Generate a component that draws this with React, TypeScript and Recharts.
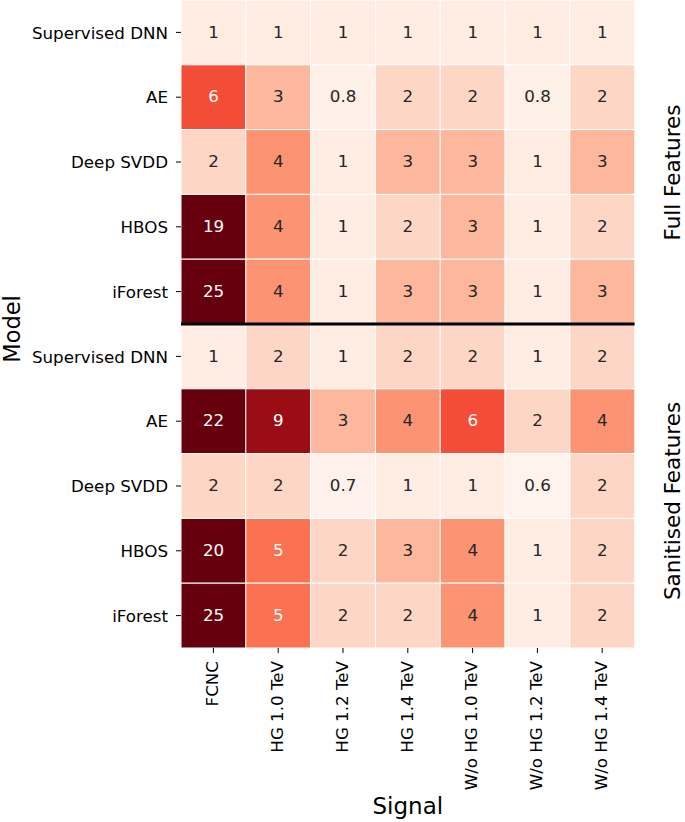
import React from 'react';
import { BarChart, Bar, XAxis, YAxis, Cell, LabelList, ReferenceLine, ReferenceArea } from 'recharts';

const signals = ['FCNC', 'HG 1.0 TeV', 'HG 1.2 TeV', 'HG 1.4 TeV', 'W/o HG 1.0 TeV', 'W/o HG 1.2 TeV', 'W/o HG 1.4 TeV'];
const models = ['Supervised DNN', 'AE', 'Deep SVDD', 'HBOS', 'iForest'];
const featureSets = ['Full Features', 'Sanitised Features'];

// Full features
const fullDnn = [1, 1, 1, 1, 1, 1, 1];
const fullAe = [6, 3, 0.8, 2, 2, 0.8, 2];
const fullSvdd = [2, 4, 1, 3, 3, 1, 3];
const fullHbos = [19, 4, 1, 2, 3, 1, 2];
const fullIforest = [25, 4, 1, 3, 3, 1, 3];
// Sanitised features
const sanDnn = [1, 2, 1, 2, 2, 1, 2];
const sanAe = [22, 9, 3, 4, 6, 2, 4];
const sanSvdd = [2, 2, 0.7, 1, 1, 0.6, 2];
const sanHbos = [20, 5, 2, 3, 4, 1, 2];
const sanIforest = [25, 5, 2, 2, 4, 1, 2];

const rows = [fullDnn, fullAe, fullSvdd, fullHbos, fullIforest, sanDnn, sanAe, sanSvdd, sanHbos, sanIforest];
const rowLabels = [...models, ...models];

const data = signals.map((s, j) => {
  const o: any = { signal: s };
  rows.forEach((r, i) => {
    o['c' + i] = 1;
    o['v' + i] = r[j];
  });
  return o;
});

const REDS = ['#fff5f0', '#fee0d2', '#fcbba1', '#fc9272', '#fb6a4a', '#ef3b2c', '#cb181d', '#a50f15', '#67000d'];
const VMIN = 0.5;
const VMAX = 10;

function hexToRgb(h: string) {
  return [parseInt(h.slice(1, 3), 16), parseInt(h.slice(3, 5), 16), parseInt(h.slice(5, 7), 16)];
}
function redsRgb(v: number) {
  let t = (v - VMIN) / (VMAX - VMIN);
  t = Math.max(0, Math.min(1, t));
  const p = t * 8;
  const i = Math.min(7, Math.floor(p));
  const f = p - i;
  const a = hexToRgb(REDS[i]);
  const b = hexToRgb(REDS[i + 1]);
  return a.map((c, k) => Math.round(c + (b[k] - c) * f));
}
function toHex(rgb: number[]) {
  return '#' + rgb.map((c) => c.toString(16).padStart(2, '0')).join('');
}
function textColor(rgb: number[]) {
  const lin = rgb.map((c) => {
    const s = c / 255;
    return s <= 0.03928 ? s / 12.92 : Math.pow((s + 0.055) / 1.055, 2.4);
  });
  const lum = 0.2126 * lin[0] + 0.7152 * lin[1] + 0.0722 * lin[2];
  return lum > 0.408 ? '#262626' : '#ffffff';
}

const FONT = 'DejaVu Sans';

const YTick = (props: any) => {
  const { x, y, payload } = props;
  return (
    <text x={x} y={y} dy={6.1} textAnchor="end" fontSize={16.7} fill="#000" fontFamily={FONT}>
      {rowLabels[Math.floor(payload.value)]}
    </text>
  );
};

const XTick = (props: any) => {
  const { x, y, payload } = props;
  return (
    <g transform={`translate(${x + 4.7},${y}) rotate(-90)`}>
      <text x={0} y={0} textAnchor="end" fontSize={16.7} fill="#000" fontFamily={FONT}>
        {payload.value}
      </text>
    </g>
  );
};

const groupOffsets = [10.5, 15];
const groupLabel = (idx: number) => (props: any) => {
  const vb = props.viewBox;
  if (!vb) return null;
  const cx = vb.x + vb.width + 45;
  const cy = vb.y + vb.height / 2 + groupOffsets[idx];
  return (
    <g transform={`translate(${cx},${cy}) rotate(-90)`}>
      <text x={0} y={0} textAnchor="middle" fontSize={21.5} fill="#000" fontFamily={FONT}>
        {featureSets[idx]}
      </text>
    </g>
  );
};

const signalTitle = (props: any) => {
  const vb = props.viewBox || { x: 181, y: 648, width: 453.6, height: 174 };
  return (
    <text x={vb.x + vb.width / 2} y={vb.y + 166} textAnchor="middle" fontSize={23} fill="#000" fontFamily={FONT}>
      Signal
    </text>
  );
};

const modelTitle = (props: any) => {
  const vb = props.viewBox || { x: 0, y: 0, width: 181, height: 648 };
  return (
    <g transform={`translate(${vb.x + 19.5},${vb.y + vb.height / 2 + 5}) rotate(-90)`}>
      <text x={0} y={0} textAnchor="middle" fontSize={22.5} fill="#000" fontFamily={FONT}>
        Model
      </text>
    </g>
  );
};

export default function App() {
  return (
    <div style={{ position: 'absolute', left: 0, top: 0, width: 685, height: 822, background: '#fff' }}>
      <BarChart
        width={685}
        height={822}
        data={data}
        margin={{ top: 0, right: 50.4, bottom: 0, left: 0 }}
        barCategoryGap={0}
        barGap={0}
      >
        <XAxis
          dataKey="signal"
          type="category"
          height={174}
          tickSize={5}
          tickMargin={8}
          tickLine={{ stroke: '#000', strokeWidth: 1 }}
          axisLine={false}
          interval={0}
          tick={XTick}
          label={{ value: 'Signal', content: signalTitle }}
        />
        <YAxis
          yAxisId="main"
          type="number"
          domain={[0, 10]}
          reversed
          ticks={rowLabels.map((_, i) => i + 0.5)}
          interval={0}
          width={181}
          tickSize={5}
          tickMargin={8}
          tickLine={{ stroke: '#000', strokeWidth: 1 }}
          axisLine={false}
          tick={YTick}
          allowDataOverflow
          label={{ value: 'Model', content: modelTitle }}
        />
        {rows.map((r, i) => (
          <Bar key={i} yAxisId="main" dataKey={'c' + i} stackId="heat" isAnimationActive={false}>
            {r.map((v, j) => (
              <Cell key={j} fill={toHex(redsRgb(v))} stroke="#ffffff" strokeWidth={1} />
            ))}
            <LabelList
              dataKey={'v' + i}
              content={(p: any) => {
                const v = Number(p.value);
                const col = textColor(redsRgb(v));
                return (
                  <text
                    x={p.x + p.width / 2}
                    y={p.y + p.height / 2}
                    dy={5.2}
                    textAnchor="middle"
                    fontSize={16.7}
                    fill={col}
                    fontFamily={FONT}
                  >
                    {String(v)}
                  </text>
                );
              }}
            />
          </Bar>
        ))}
        {featureSets.map((_, idx) => (
          <ReferenceArea
            key={idx}
            yAxisId="main"
            y1={idx * 5}
            y2={idx * 5 + 5}
            fill="none"
            fillOpacity={0}
            stroke="none"
            ifOverflow="visible"
            label={{ value: featureSets[idx], content: groupLabel(idx) }}
          />
        ))}
        <ReferenceLine yAxisId="main" y={5} stroke="#000" strokeWidth={3} />
      </BarChart>
    </div>
  );
}
